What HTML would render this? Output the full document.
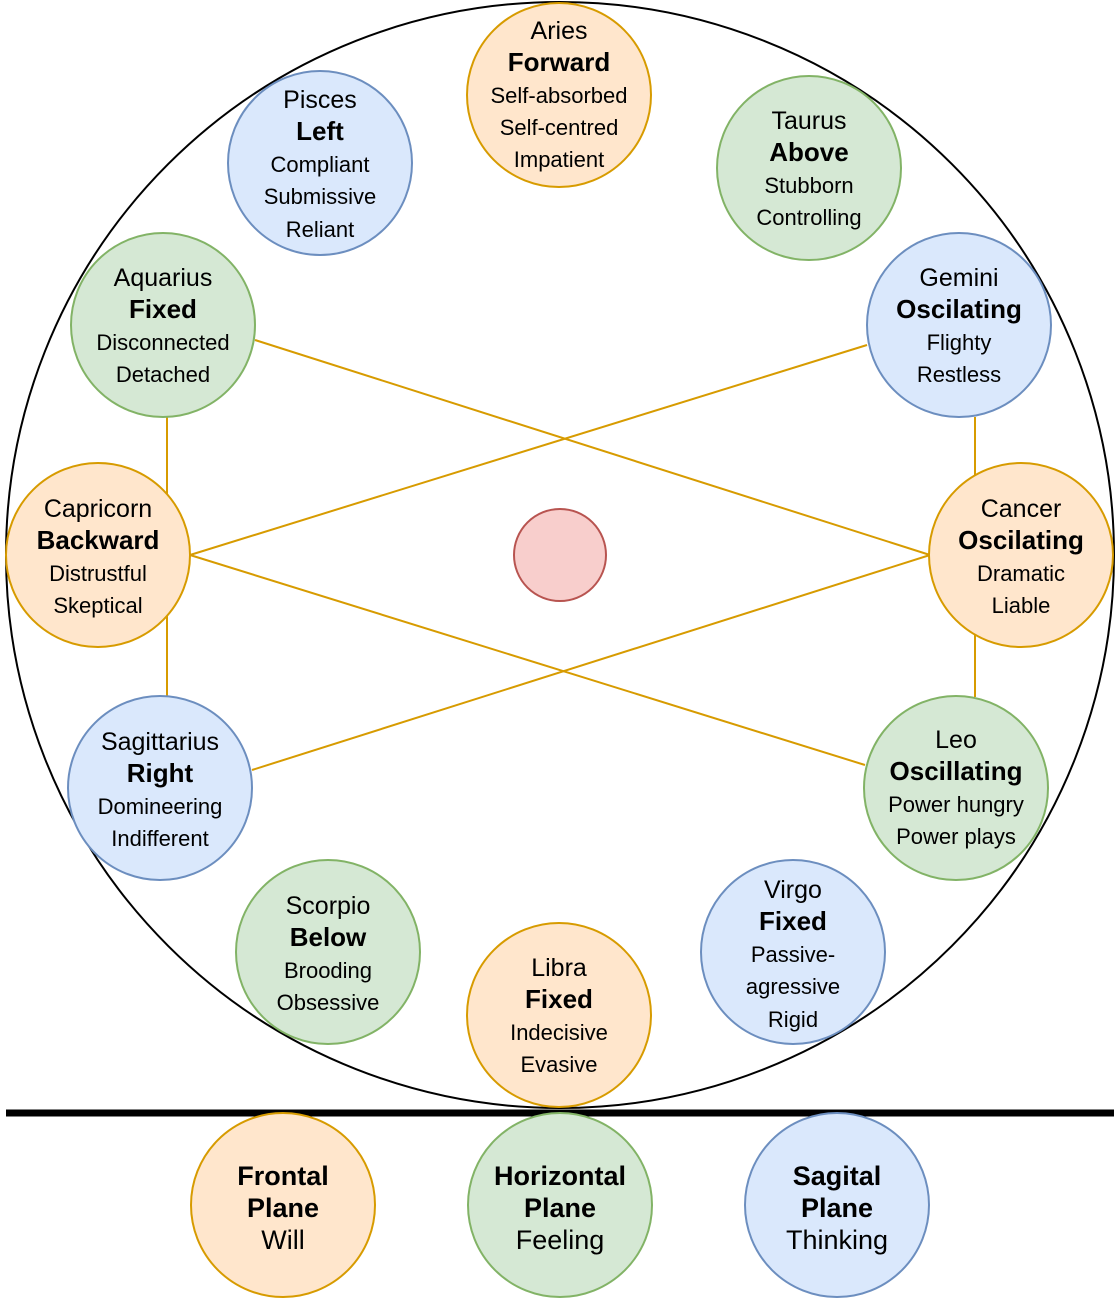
<!DOCTYPE html>
<html><head><meta charset="utf-8"><style>
html,body{margin:0;padding:0;background:#fff;}
svg{display:block;}
text{font-family:"Liberation Sans",Helvetica,Arial,sans-serif;text-anchor:middle;fill:#000;}
.t{font-size:25px;}
.b{font-size:26px;font-weight:bold;}
.d{font-size:22px;}
.bb{font-size:27px;font-weight:bold;}
.bt{font-size:27px;}
</style></head><body>
<svg width="1120" height="1300" viewBox="0 0 1120 1300" xmlns="http://www.w3.org/2000/svg">
<ellipse cx="560" cy="555" rx="554" ry="553" fill="#fff" stroke="#000" stroke-width="2"/>
<g stroke="#d79b00" stroke-width="2" fill="none">
<line x1="255" y1="340" x2="930" y2="555"/>
<line x1="867" y1="345" x2="190" y2="555"/>
<line x1="190" y1="555" x2="865" y2="765"/>
<line x1="252" y1="770" x2="930" y2="555"/>
<line x1="167" y1="417" x2="167" y2="495"/>
<line x1="167" y1="615" x2="167" y2="697"/>
<line x1="975" y1="417" x2="975" y2="475"/>
<line x1="975" y1="635" x2="975" y2="697"/>
</g>
<line x1="6" y1="1113" x2="1114" y2="1113" stroke="#000" stroke-width="7"/>
<g stroke-width="2">
<circle cx="559" cy="95" r="92" fill="#ffe6cc" stroke="#d79b00"/>
<circle cx="320" cy="163" r="92" fill="#dae8fc" stroke="#6c8ebf"/>
<circle cx="809" cy="168" r="92" fill="#d5e8d4" stroke="#82b366"/>
<circle cx="163" cy="325" r="92" fill="#d5e8d4" stroke="#82b366"/>
<circle cx="959" cy="325" r="92" fill="#dae8fc" stroke="#6c8ebf"/>
<circle cx="98" cy="555" r="92" fill="#ffe6cc" stroke="#d79b00"/>
<circle cx="1021" cy="555" r="92" fill="#ffe6cc" stroke="#d79b00"/>
<circle cx="160" cy="788" r="92" fill="#dae8fc" stroke="#6c8ebf"/>
<circle cx="956" cy="788" r="92" fill="#d5e8d4" stroke="#82b366"/>
<circle cx="328" cy="952" r="92" fill="#d5e8d4" stroke="#82b366"/>
<circle cx="793" cy="952" r="92" fill="#dae8fc" stroke="#6c8ebf"/>
<circle cx="559" cy="1015" r="92" fill="#ffe6cc" stroke="#d79b00"/>
<circle cx="560" cy="555" r="46" fill="#f8cecc" stroke="#b85450"/>
<circle cx="283" cy="1205" r="92" fill="#ffe6cc" stroke="#d79b00"/>
<circle cx="560" cy="1205" r="92" fill="#d5e8d4" stroke="#82b366"/>
<circle cx="837" cy="1205" r="92" fill="#dae8fc" stroke="#6c8ebf"/>
</g>
<text x="559" y="39" class="t">Aries</text><text x="559" y="71" class="b">Forward</text>
<text x="559" y="103" class="d">Self-absorbed</text><text x="559" y="135" class="d">Self-centred</text><text x="559" y="167" class="d">Impatient</text>
<text x="320" y="108" class="t">Pisces</text><text x="320" y="140" class="b">Left</text>
<text x="320" y="172" class="d">Compliant</text><text x="320" y="204" class="d">Submissive</text><text x="320" y="237" class="d">Reliant</text>
<text x="809" y="129" class="t">Taurus</text><text x="809" y="161" class="b">Above</text>
<text x="809" y="193" class="d">Stubborn</text><text x="809" y="225" class="d">Controlling</text>
<text x="163" y="286" class="t">Aquarius</text><text x="163" y="318" class="b">Fixed</text>
<text x="163" y="350" class="d">Disconnected</text><text x="163" y="382" class="d">Detached</text>
<text x="959" y="286" class="t">Gemini</text><text x="959" y="318" class="b">Oscilating</text>
<text x="959" y="350" class="d">Flighty</text><text x="959" y="382" class="d">Restless</text>
<text x="98" y="517" class="t">Capricorn</text><text x="98" y="549" class="b">Backward</text>
<text x="98" y="581" class="d">Distrustful</text><text x="98" y="613" class="d">Skeptical</text>
<text x="1021" y="517" class="t">Cancer</text><text x="1021" y="549" class="b">Oscilating</text>
<text x="1021" y="581" class="d">Dramatic</text><text x="1021" y="613" class="d">Liable</text>
<text x="160" y="750" class="t">Sagittarius</text><text x="160" y="782" class="b">Right</text>
<text x="160" y="814" class="d">Domineering</text><text x="160" y="846" class="d">Indifferent</text>
<text x="956" y="748" class="t">Leo</text><text x="956" y="780" class="b">Oscillating</text>
<text x="956" y="812" class="d">Power hungry</text><text x="956" y="844" class="d">Power plays</text>
<text x="328" y="914" class="t">Scorpio</text><text x="328" y="946" class="b">Below</text>
<text x="328" y="978" class="d">Brooding</text><text x="328" y="1010" class="d">Obsessive</text>
<text x="793" y="898" class="t">Virgo</text><text x="793" y="930" class="b">Fixed</text>
<text x="793" y="962" class="d">Passive-</text><text x="793" y="994" class="d">agressive</text><text x="793" y="1027" class="d">Rigid</text>
<text x="559" y="976" class="t">Libra</text><text x="559" y="1008" class="b">Fixed</text>
<text x="559" y="1040" class="d">Indecisive</text><text x="559" y="1072" class="d">Evasive</text>
<text x="283" y="1185" class="bb">Frontal</text><text x="283" y="1217" class="bb">Plane</text><text x="283" y="1249" class="bt">Will</text>
<text x="560" y="1185" class="bb">Horizontal</text><text x="560" y="1217" class="bb">Plane</text><text x="560" y="1249" class="bt">Feeling</text>
<text x="837" y="1185" class="bb">Sagital</text><text x="837" y="1217" class="bb">Plane</text><text x="837" y="1249" class="bt">Thinking</text>
</svg>
</body></html>
